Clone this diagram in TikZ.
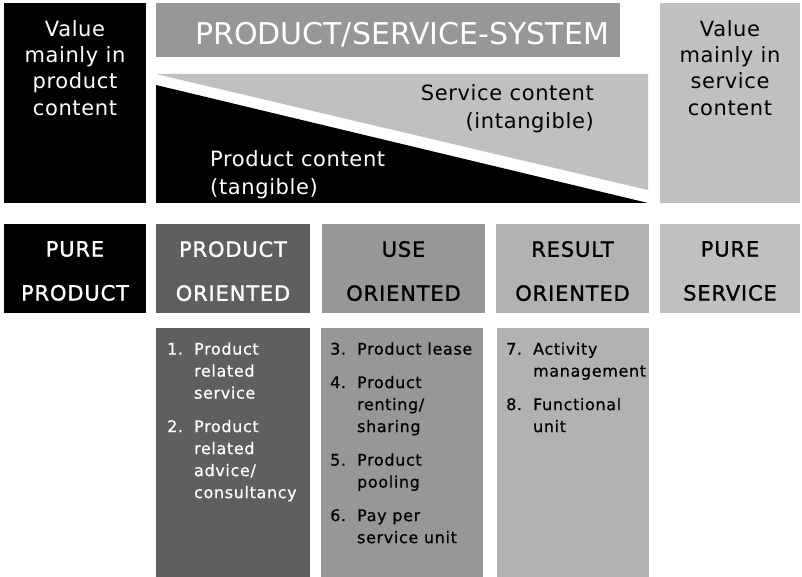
\documentclass[tikz,border=0pt]{standalone}
\usepackage{fontspec}
\setmainfont{DejaVu Sans}[LetterSpace=3]
\newfontfamily\psstitlefont{DejaVu Sans}
\newfontfamily\pssheadfont{DejaVu Sans}[LetterSpace=4,FakeBold=1.2]
\newfontfamily\psslistfont{DejaVu Sans}[LetterSpace=4,FakeBold=0.5]
\usetikzlibrary{positioning}
\definecolor{pssdark}{HTML}{5F5F5F}
\definecolor{pssmid}{HTML}{979797}
\definecolor{psslight}{HTML}{B2B2B2}
\definecolor{psspale}{HTML}{C0C0C0}
\tikzset{
  cell/.style={anchor=north west, inner sep=0pt, outer sep=0pt},
  valtext/.style={font=\fontsize{21}{26.3}\selectfont, align=center, anchor=north, inner sep=0pt},
  headtext/.style={font=\pssheadfont\fontsize{21}{44}\selectfont, align=center, anchor=north, inner sep=0pt},
  listtext/.style={font=\psslistfont\fontsize{16}{22}\selectfont, anchor=north west, inner sep=0pt}
}
\newcommand{\pssitems}[1]{\begin{tabular}{@{}l@{\hspace{11pt}}l@{}}#1\end{tabular}}
\begin{document}
\begin{tikzpicture}[x=1pt,y=-1pt]
  \useasboundingbox[fill=white] (0,0) rectangle (802,577);
  % top row
  \node[cell, fill=black, minimum width=142pt, minimum height=200pt] (valprod) at (4,3) {};
  \node[cell, fill=pssmid, minimum width=464pt, minimum height=54pt] (title) at (156,3) {};
  \node[cell, fill=psspale, minimum width=140pt, minimum height=200pt] (valserv) at (660,3) {};
  \node[text=white, font=\psstitlefont\fontsize{30}{32}\selectfont] (titletext) at ([xshift=14pt,yshift=-5pt]title.center) {PRODUCT/SERVICE-SYSTEM};
  \node[valtext, text=white] (valprodtext) at ([yshift=-17pt]valprod.north) {Value\\mainly in\\product\\content};
  \node[valtext, text=black] (valservtext) at ([yshift=-17pt]valserv.north) {Value\\mainly in\\service\\content};
  % triangles
  \fill[psspale] (156,74) -- (648,74) -- (648,190) -- cycle;
  \fill[black] (156,85) -- (648,203) -- (156,203) -- cycle;
  \node[anchor=north east, align=right, inner sep=0pt, font=\fontsize{21}{28}\selectfont] (servcont) at (594,84) {Service content\\(intangible)};
  \node[anchor=north west, align=left, inner sep=0pt, text=white, font=\fontsize{21}{28}\selectfont] (prodcont) at (210,150) {Product content\\(tangible)};
  % middle row
  \node[cell, fill=black, minimum width=142pt, minimum height=89pt] (pureprod) at (4,224) {};
  \node[cell, fill=pssdark, minimum width=154pt, minimum height=89pt] (prodor) at (156,224) {};
  \node[cell, fill=pssmid, minimum width=163pt, minimum height=89pt] (useor) at (322,224) {};
  \node[cell, fill=psslight, minimum width=153pt, minimum height=89pt] (resor) at (496,224) {};
  \node[cell, fill=psspale, minimum width=140pt, minimum height=89pt] (pureserv) at (660,224) {};
  \node[headtext, text=white] (pureprodtext) at ([yshift=-17pt]pureprod.north) {PURE\\PRODUCT};
  \node[headtext, text=white] (prodortext) at ([yshift=-17pt]prodor.north) {PRODUCT\\ORIENTED};
  \node[headtext] (useortext) at ([yshift=-17pt]useor.north) {USE\\ORIENTED};
  \node[headtext] (resortext) at ([yshift=-17pt]resor.north) {RESULT\\ORIENTED};
  \node[headtext] (pureservtext) at ([yshift=-17pt]pureserv.north) {PURE\\SERVICE};
  % lists
  \node[cell, fill=pssdark, minimum width=154pt, minimum height=249pt] (prodlist) at (156,328) {};
  \node[cell, fill=pssmid, minimum width=162pt, minimum height=249pt] (uselist) at (321,328) {};
  \node[cell, fill=psslight, minimum width=152pt, minimum height=249pt] (reslist) at (497,328) {};
  \node[listtext, text=white] (prodlisttext) at (167,339) {\pssitems{
    1. & Product\\ & related\\ & service\\[11.5pt]
    2. & Product\\ & related\\ & advice/\\ & consultancy}};
  \node[listtext] (uselisttext) at (330,339) {\pssitems{
    3. & Product lease\\[11.5pt]
    4. & Product\\ & renting/\\ & sharing\\[11.5pt]
    5. & Product\\ & pooling\\[11.5pt]
    6. & Pay per\\ & service unit}};
  \node[listtext] (reslisttext) at (506,339) {\pssitems{
    7. & Activity\\ & management\\[11.5pt]
    8. & Functional\\ & unit}};
\end{tikzpicture}
\end{document}
